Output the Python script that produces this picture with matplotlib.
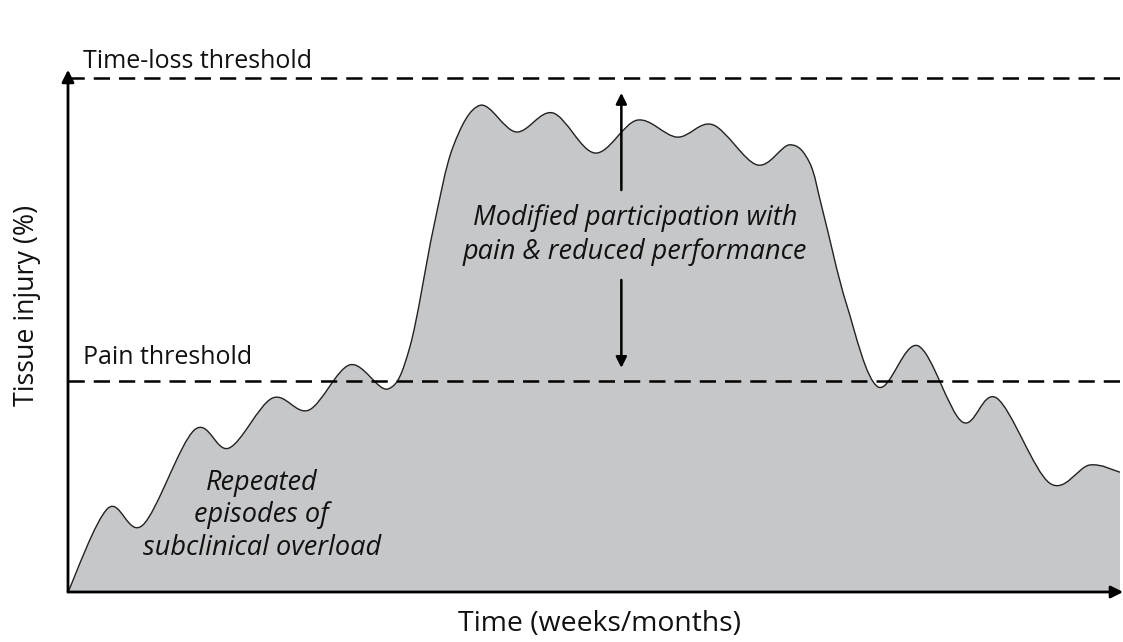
import numpy as np
import matplotlib
matplotlib.use("Agg")
import matplotlib.pyplot as plt
from matplotlib.path import Path
from matplotlib.patches import PathPatch

# curve: time (0-100) and tissue injury (0-100, time-loss = 100)
time_pts = [0, 3.8, 7.1, 12.0, 15.3, 19.4, 22.9, 26.8, 30.4, 32.5, 34.7, 36.6, 39.2,
            42.6, 46.1, 50.1, 54.1, 57.9, 61.3, 65.5, 68.6, 70.5, 71.8, 74.0, 77.0,
            80.8, 85.0, 88.3, 93.3, 97.1, 100]
injury_pts = [0, 16.3, 13.0, 31.5, 28.0, 37.7, 35.4, 44.2, 39.5, 47.7, 70.4, 86.6, 94.7,
              89.5, 93.2, 85.4, 91.8, 88.5, 90.9, 83.1, 87.0, 83.5, 73.7, 56.0, 39.9,
              47.9, 33.1, 37.7, 21.2, 24.7, 23.3]
pain_level = 41.1
timeloss_level = 100
arrow_x = 52.6
arrow_up = (78.2, 97.1)
arrow_down = (60.7, 43.6)

FONT = "Open Sans"

fig = plt.figure(figsize=(11.23, 6.42), dpi=100)
ax = fig.add_axes([68 / 1123, 50 / 642, 1052 / 1123, 514 / 642])
ax.set_xlim(0, 100)
ax.set_ylim(0, 100)
ax.axis("off")

# smooth curve through the read points using cubic bezier segments (Catmull-Rom handles)
pts = np.column_stack([time_pts, injury_pts])
verts = [tuple(pts[0])]
codes = [Path.MOVETO]
for i in range(len(pts) - 1):
    p0 = pts[i - 1] if i > 0 else pts[i]
    p1 = pts[i]
    p2 = pts[i + 1]
    p3 = pts[i + 2] if i + 2 < len(pts) else pts[i + 1]
    c1 = p1 + (p2 - p0) / 6.0
    c2 = p2 - (p3 - p1) / 6.0
    verts += [tuple(c1), tuple(c2), tuple(p2)]
    codes += [Path.CURVE4] * 3
line_path = Path(verts, codes)
fill_path = Path(verts + [(time_pts[-1], 0), (time_pts[0], 0), (0, 0)],
                 codes + [Path.LINETO, Path.LINETO, Path.CLOSEPOLY])
ax.add_patch(PathPatch(fill_path, facecolor="#c6c7c9", edgecolor="none", zorder=1))
ax.add_patch(PathPatch(line_path, facecolor="none", edgecolor="#222222", lw=1.0, zorder=2))

# thresholds
for lvl in (pain_level, timeloss_level):
    ax.plot([0, 100], [lvl, lvl], color="black", lw=1.8, ls=(0, (6.5, 3.6)),
            clip_on=False, zorder=3)
ax.text(1.4, timeloss_level + 3.3, "Time-loss threshold", fontsize=18, family=FONT,
        va="center", ha="left", color="#111111")
ax.text(1.4, pain_level + 4.5, "Pain threshold", fontsize=18, family=FONT,
        va="center", ha="left", color="#111111")

# axes with arrows
ax.annotate("", xy=(0, 101.6), xytext=(0, 0), xycoords="data",
            arrowprops=dict(arrowstyle="-|>", color="black", lw=2.0,
                            mutation_scale=18, shrinkA=0, shrinkB=0), annotation_clip=False)
ax.annotate("", xy=(100.3, 0), xytext=(0, 0),
            arrowprops=dict(arrowstyle="-|>", color="black", lw=2.0,
                            mutation_scale=18, shrinkA=0, shrinkB=0), annotation_clip=False)

# annotation arrows
ax.annotate("", xy=(arrow_x, arrow_up[1]), xytext=(arrow_x, arrow_up[0]),
            arrowprops=dict(arrowstyle="-|>", color="black", lw=1.8,
                            mutation_scale=16, shrinkA=0, shrinkB=0))
ax.annotate("", xy=(arrow_x, arrow_down[1]), xytext=(arrow_x, arrow_down[0]),
            arrowprops=dict(arrowstyle="-|>", color="black", lw=1.8,
                            mutation_scale=16, shrinkA=0, shrinkB=0))

ax.text(53.9, 69.4, "Modified participation with\npain & reduced performance",
        fontsize=19.5, style="italic", family=FONT, ha="center", va="center",
        linespacing=1.29, color="#111111")
ax.text(18.4, 14.9, "Repeated\nepisodes of\nsubclinical overload",
        fontsize=19.5, style="italic", family=FONT, ha="center", va="center",
        linespacing=1.2, color="#111111")

fig.text(27 / 1123, 1 - 305 / 642, "Tissue injury (%)", rotation=90, fontsize=19.3,
         family=FONT, ha="center", va="center", color="#111111")
fig.text(600 / 1123, 1 - 624 / 642, "Time (weeks/months)", fontsize=20.4,
         family=FONT, ha="center", va="center", color="#111111")

fig.savefig("out.png", dpi=100)
